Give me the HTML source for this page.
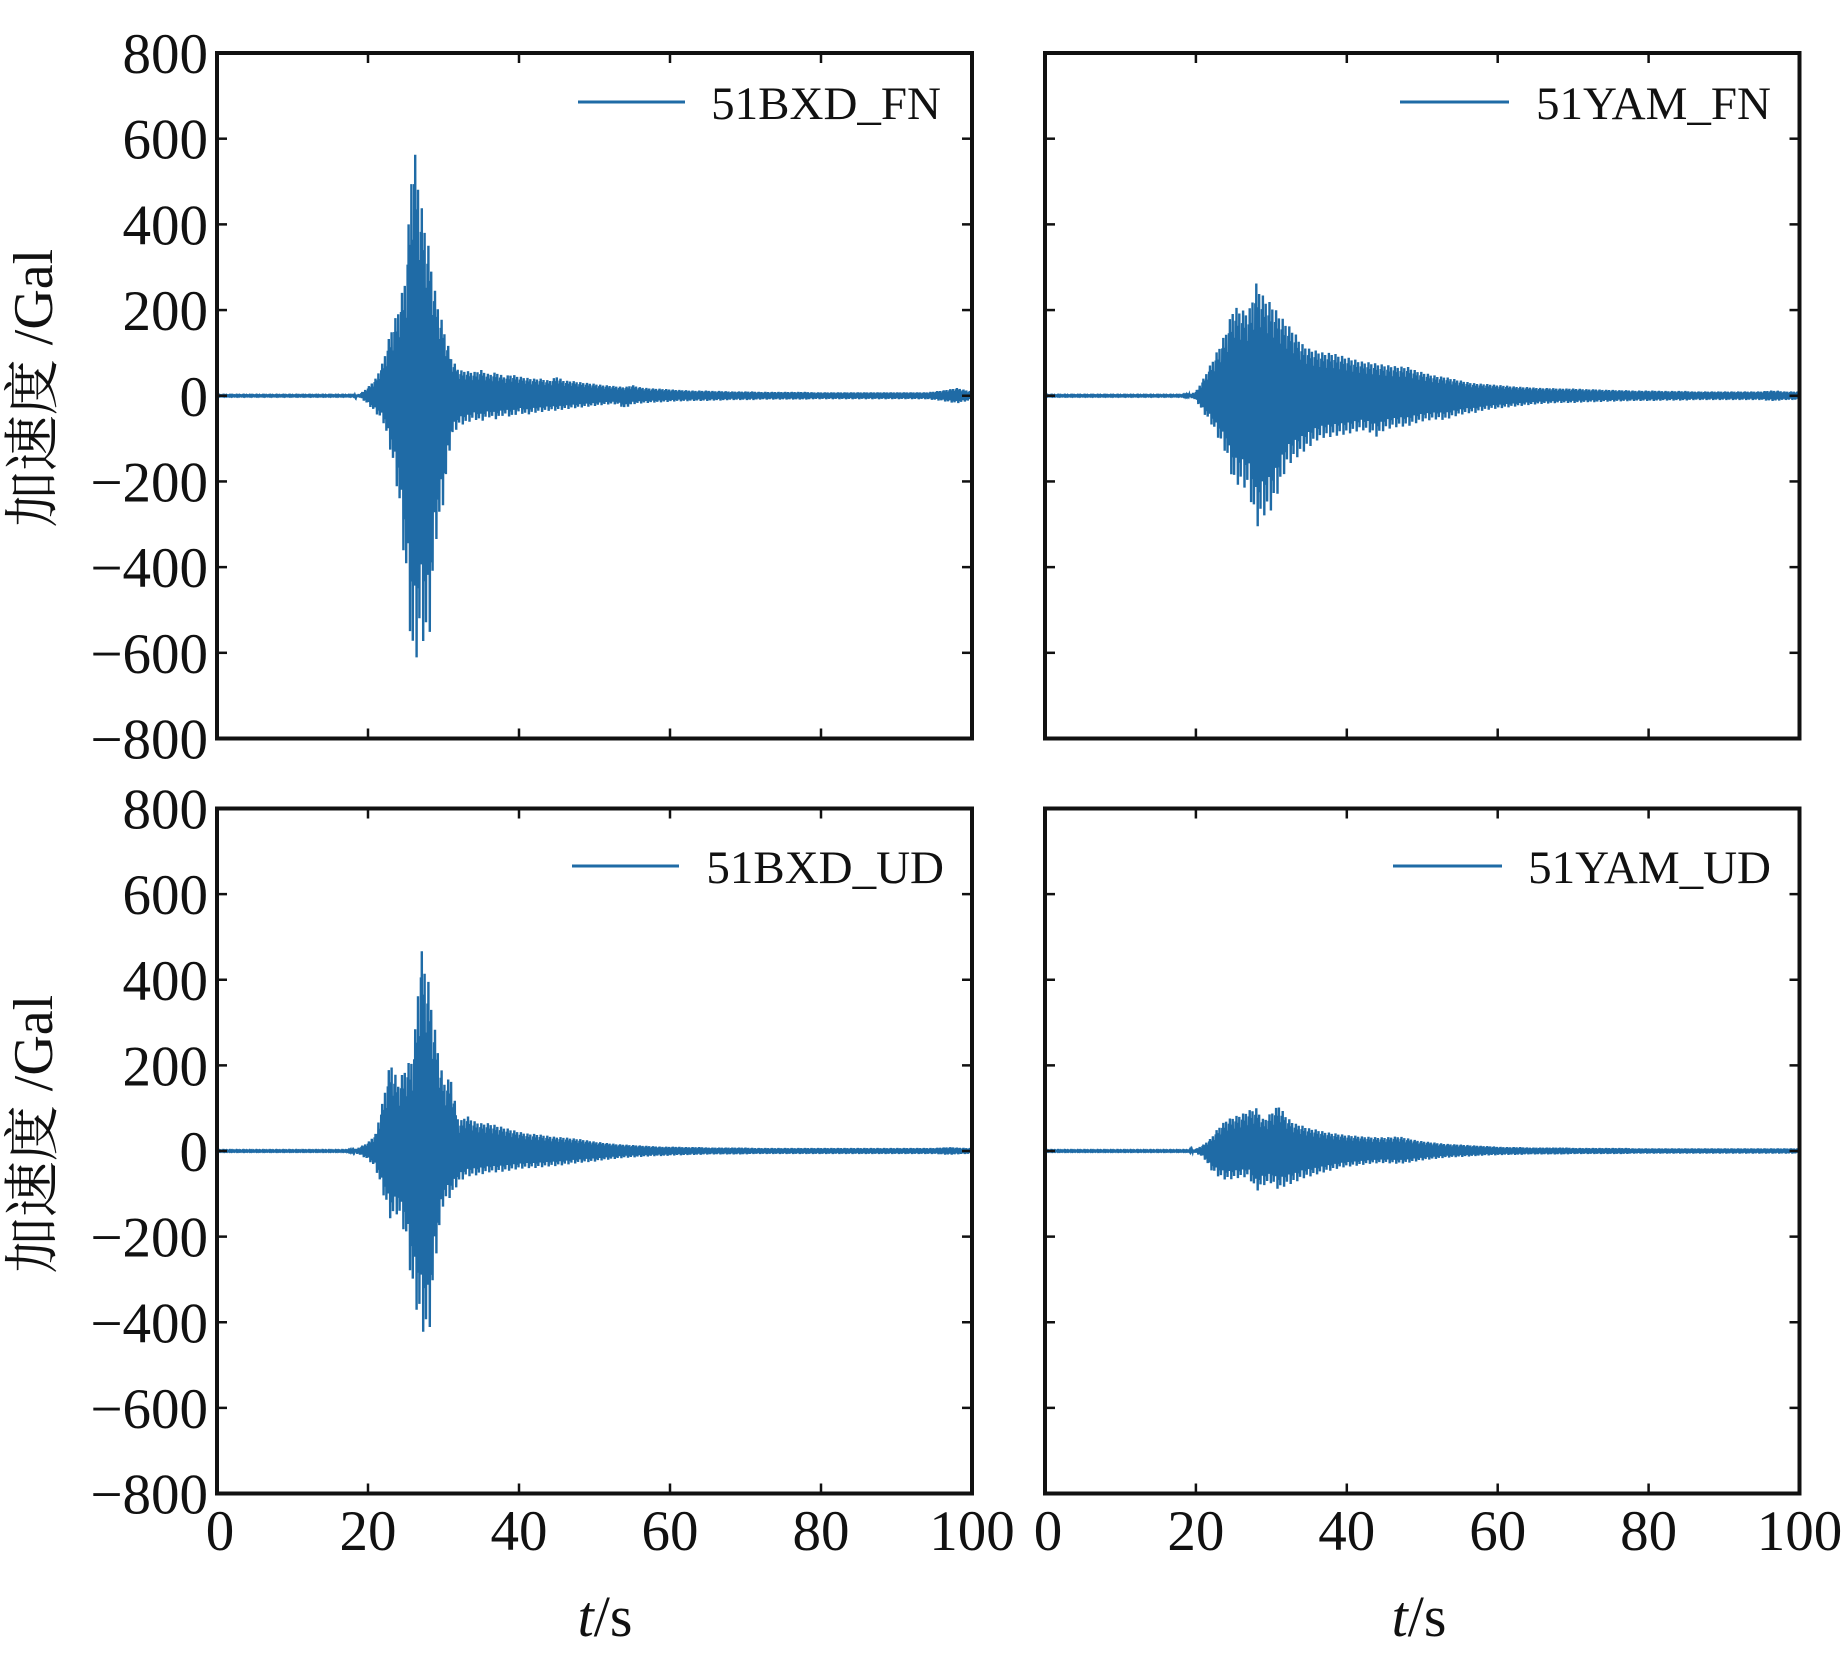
<!DOCTYPE html>
<html><head><meta charset="utf-8"><style>
html,body{margin:0;padding:0;background:#fff;}
svg{display:block;}
text{font-family:"Liberation Serif","Noto Serif CJK SC","Noto Sans CJK SC",serif;fill:#111;}
</style></head><body>
<svg id="chart" width="1843" height="1654" viewBox="0 0 1843 1654" xmlns="http://www.w3.org/2000/svg"></svg>
<script>
// Envelope data (Gal), one value per second t = 0..100
const timeSeconds = Array.from({length:101},(_,i)=>i);
const xTicks = [0,20,40,60,80,100];
const yTicks = [-800,-600,-400,-200,0,200,400,600,800];
const yTickLabels = ["\u2212800","\u2212600","\u2212400","\u2212200","0","200","400","600","800"];
const seriesNames = ["51BXD_FN","51YAM_FN","51BXD_UD","51YAM_UD"];

const bxdFnUpper = [1,1,1,1,1,1,1,1,1,1,1,1,1,1,1,1,1,1,1,5,20,40,80,150,200,280,600,450,350,230,160,90,60,58,55,60,50,55,45,50,45,42,40,40,35,45,35,35,32,30,28,25,24,22,20,25,20,18,17,16,15,14,13,12,12,12,11,11,10,10,10,10,9,9,9,9,9,9,9,8,8,8,8,8,8,8,8,8,8,8,8,8,8,8,8,10,12,15,18,14,10];
const bxdFnLower = [-1,-1,-1,-1,-1,-1,-1,-1,-1,-1,-1,-1,-1,-1,-1,-1,-1,-1,-1,-5,-20,-40,-60,-130,-230,-420,-650,-560,-600,-340,-250,-100,-70,-65,-55,-60,-50,-55,-45,-50,-40,-45,-40,-38,-35,-35,-32,-30,-28,-26,-24,-22,-20,-20,-30,-20,-18,-17,-16,-15,-14,-13,-13,-12,-12,-12,-11,-11,-10,-10,-10,-10,-9,-9,-9,-9,-9,-9,-9,-8,-8,-8,-8,-8,-8,-8,-8,-8,-8,-8,-8,-8,-8,-8,-8,-10,-12,-15,-18,-14,-10];
const yamFnUpper = [1,1,1,1,1,1,1,1,1,1,1,1,1,1,1,1,1,1,1,2,10,40,75,110,150,208,200,196,262,230,215,190,169,150,122,110,105,100,100,95,90,85,80,78,75,72,70,68,68,60,55,50,46,44,40,36,32,29,28,27,25,24,22,21,20,19,18,18,17,17,17,16,15,15,14,14,13,13,12,12,12,12,11,11,11,11,10,10,10,10,10,10,10,10,10,10,12,12,10,10,10];
const yamFnLower = [-1,-1,-1,-1,-1,-1,-1,-1,-1,-1,-1,-1,-1,-1,-1,-1,-1,-1,-1,-2,-10,-40,-65,-100,-135,-205,-210,-220,-310,-280,-267,-220,-166,-150,-135,-120,-105,-98,-96,-92,-90,-85,-80,-85,-96,-80,-75,-72,-72,-65,-60,-57,-55,-57,-50,-45,-41,-40,-35,-32,-30,-28,-26,-24,-22,-20,-19,-18,-17,-17,-17,-16,-15,-15,-14,-14,-13,-13,-12,-12,-12,-12,-11,-11,-11,-11,-10,-10,-10,-10,-10,-10,-10,-10,-10,-10,-12,-12,-10,-10,-10];
const bxdUdUpper = [1,1,1,1,1,1,1,1,1,1,1,1,1,1,1,1,1,1,2,10,20,40,120,212,158,197,220,477,395,267,162,170,65,84,70,65,65,60,55,50,45,41,40,38,35,33,32,30,28,25,22,20,18,16,15,14,13,12,11,10,10,10,9,9,9,8,8,8,8,8,8,7,7,7,7,7,7,7,7,7,7,7,7,7,7,7,7,7,7,7,7,7,7,7,7,7,8,9,8,7,7];
const bxdUdLower = [-1,-1,-1,-1,-1,-1,-1,-1,-1,-1,-1,-1,-1,-1,-1,-1,-1,-1,-2,-10,-20,-40,-100,-161,-145,-200,-340,-410,-449,-247,-122,-107,-75,-60,-58,-55,-50,-50,-48,-45,-42,-40,-40,-38,-36,-35,-33,-30,-28,-26,-25,-22,-20,-18,-16,-15,-14,-13,-12,-12,-11,-10,-10,-9,-9,-8,-8,-8,-8,-8,-8,-7,-7,-7,-7,-7,-7,-7,-7,-7,-7,-7,-7,-7,-7,-7,-7,-7,-7,-7,-7,-7,-7,-7,-7,-7,-8,-9,-8,-7,-7];
const yamUdUpper = [1,1,1,1,1,1,1,1,1,1,1,1,1,1,1,1,1,1,1,1,5,15,30,55,72,80,85,95,100,72,90,107,80,65,60,53,50,45,42,40,37,36,34,33,32,32,33,34,30,26,23,21,19,17,16,15,14,13,12,11,10,9,9,9,8,8,8,8,8,8,7,7,7,7,7,7,7,7,6,6,6,6,6,6,6,6,6,6,6,6,6,6,6,6,6,6,6,6,6,6,6];
const yamUdLower = [-1,-1,-1,-1,-1,-1,-1,-1,-1,-1,-1,-1,-1,-1,-1,-1,-1,-1,-1,-1,-5,-15,-44,-60,-68,-65,-62,-60,-95,-80,-75,-91,-80,-75,-65,-60,-55,-50,-45,-40,-37,-35,-33,-30,-29,-28,-29,-30,-28,-25,-22,-20,-18,-16,-15,-14,-13,-12,-11,-10,-10,-9,-9,-9,-8,-8,-8,-8,-8,-8,-7,-7,-7,-7,-7,-7,-7,-7,-6,-6,-6,-6,-6,-6,-6,-6,-6,-6,-6,-6,-6,-6,-6,-6,-6,-6,-6,-6,-6,-6,-6];

const NS="http://www.w3.org/2000/svg";
const svg=document.getElementById('chart');
function mk(tag,attrs,parent){const e=document.createElementNS(NS,tag);for(const k in attrs)e.setAttribute(k,attrs[k]);(parent||svg).appendChild(e);return e;}

const panels=[
 {x0:217,x1:972,y0:53,y1:738.5,up:bxdFnUpper,lo:bxdFnLower,name:seriesNames[0],legX1:578,legX2:685,legY:102,textEnd:941,textY:119,left:true,bottom:false},
 {x0:1045,x1:1799.5,y0:53,y1:738.5,up:yamFnUpper,lo:yamFnLower,name:seriesNames[1],legX1:1400,legX2:1509,legY:102,textEnd:1771,textY:119,left:false,bottom:false},
 {x0:217,x1:972,y0:808.5,y1:1493.5,up:bxdUdUpper,lo:bxdUdLower,name:seriesNames[2],legX1:572,legX2:679,legY:866,textEnd:944,textY:883,left:true,bottom:true},
 {x0:1045,x1:1799.5,y0:808.5,y1:1493.5,up:yamUdUpper,lo:yamUdLower,name:seriesNames[3],legX1:1393,legX2:1502,legY:866,textEnd:1771,textY:883,left:false,bottom:true}
];
const pattern=[1,-0.6,0.8,-1,0.45,-0.75,0.95,-0.4,0.65,-0.9,0.35,-0.55,0.85,-0.7];

panels.forEach((p,pi)=>{
  const g=mk('g',{});
  
  
  const xs=t=>p.x0+(t-0)/(100-0)*(p.x1-p.x0);
  const ys=v=>p.y0+(800-v)/1600*(p.y1-p.y0);
  let pts=[];
  const sub=16;
  for(let i=0;i<100;i++){
    for(let k=0;k<sub;k++){
      const f=k/sub;
      const u=p.up[i]+(p.up[i+1]-p.up[i])*f;
      const l=p.lo[i]+(p.lo[i+1]-p.lo[i])*f;
      const m=pattern[(i*sub+k)%pattern.length];
      const v=m>0?u*m:(-l)*m;
      pts.push(xs(timeSeconds[i]+f).toFixed(1)+','+ys(v).toFixed(1));
    }
  }
  pts.push(xs(100).toFixed(1)+','+ys(0).toFixed(1));
  const line=mk('polyline',{points:pts.join(' '),fill:'none',stroke:'#1f6ba6','stroke-width':'2.4','stroke-linejoin':'miter'},g);
  
  
  yTicks.forEach((v,j)=>{
    const y=ys(v);
    const tl=mk('line',{x1:p.x0,x2:p.x0+10,y1:y,y2:y,stroke:'#111','stroke-width':2.5},g);
    
    
    const tr=mk('line',{x1:p.x1-10,x2:p.x1,y1:y,y2:y,stroke:'#111','stroke-width':2.5},g);
    
    
    if(p.left){
      const tx=mk('text',{x:208,y:y+20,'text-anchor':'end','font-size':57},g);
      tx.textContent=yTickLabels[j];
      
      
    }
  });
  xTicks.forEach(t=>{
    const x=xs(t);
    const tb=mk('line',{x1:x,x2:x,y1:p.y1-10,y2:p.y1,stroke:'#111','stroke-width':2.5},g);
    
    
    const tt=mk('line',{x1:x,x2:x,y1:p.y0,y2:p.y0+10,stroke:'#111','stroke-width':2.5},g);
    
    
    if(p.bottom){
      const tx=mk('text',{x:x+(t===0?3:0),y:1550,'text-anchor':'middle','font-size':57},g);
      tx.textContent=String(t);
      
      
    }
  });
  const fr=mk('rect',{x:p.x0,y:p.y0,width:p.x1-p.x0,height:p.y1-p.y0,fill:'none',stroke:'#111','stroke-width':4},g);
  
  
  const lg=mk('g',{},g);
  
  
  const ll=mk('line',{x1:p.legX1,x2:p.legX2,y1:p.legY,y2:p.legY,stroke:'#1f6ba6','stroke-width':3},lg);
  
  
  const lt=mk('text',{x:p.textEnd,y:p.textY,'text-anchor':'end','font-size':47},lg);
  lt.textContent=p.name;
  
  
});

[388,1134].forEach(cy=>{
  const t=mk('text',{x:0,y:0,'text-anchor':'middle','font-size':56,transform:'translate(52,'+cy+') rotate(-90)'});
  t.textContent='加速度 /Gal';
  
  
});
[605,1419].forEach(cx=>{
  const t=mk('text',{x:cx,y:1636,'text-anchor':'middle','font-size':58});
  const a=mk('tspan',{'font-style':'italic'},t);a.textContent='t';
  const b=mk('tspan',{},t);b.textContent='/s';
  
  
});
</script>
</body></html>
